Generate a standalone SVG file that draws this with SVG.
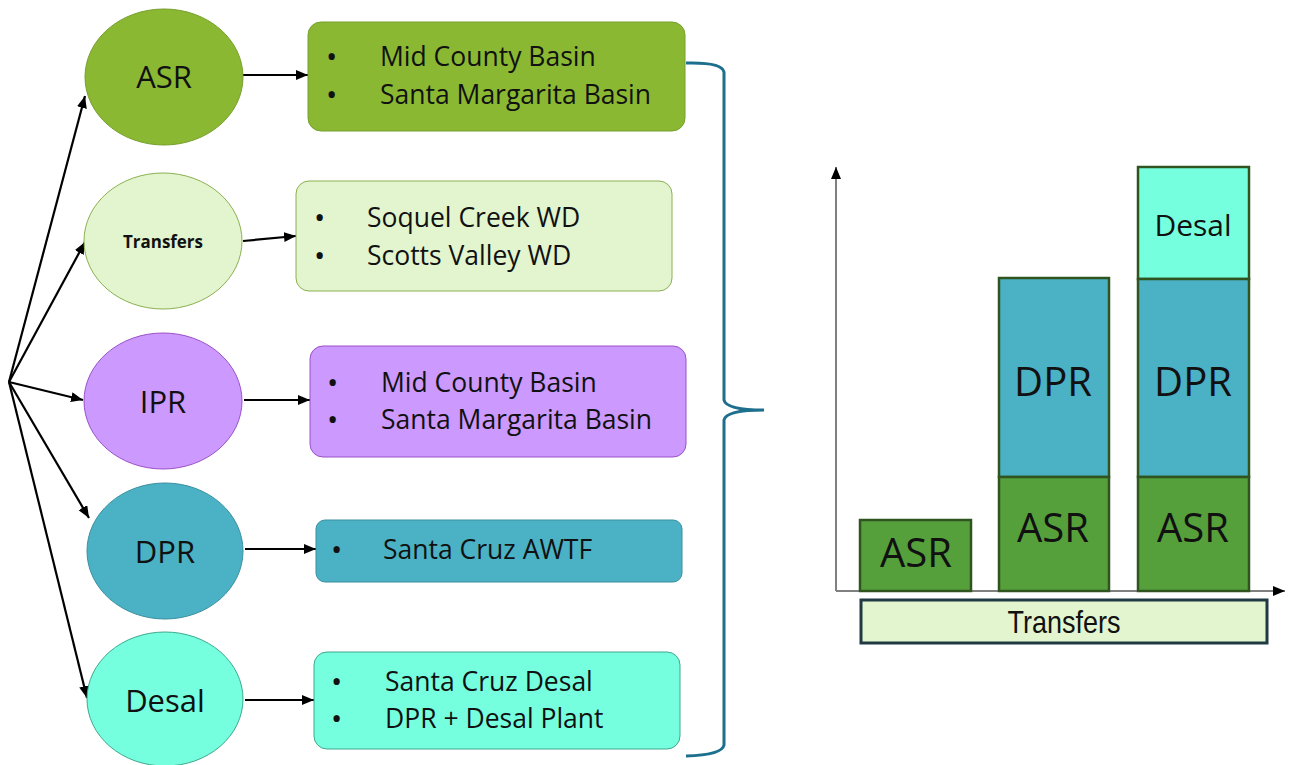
<svg xmlns="http://www.w3.org/2000/svg" width="1291" height="765" viewBox="0 0 1291 765">
<defs>
<marker id="ah" markerUnits="userSpaceOnUse" markerWidth="14" markerHeight="12" refX="12" refY="5" orient="auto">
<path d="M0,0 L12,5 L0,10 Z" fill="#000"/>
</marker>
<style>
.lbl{font-family:"Open Sans","Liberation Sans",sans-serif;fill:#111;}
.el{font-size:31px;text-anchor:middle;}
.it{font-size:26.5px;}
.bul{font-size:30px;}
.conn{stroke:#000;stroke-width:2.2;fill:none;marker-end:url(#ah);}
.axis{stroke:#808080;stroke-width:2;fill:none;marker-end:url(#ah);}
.bar{stroke:#2f5420;stroke-width:2.5;}
.big{font-size:40px;text-anchor:middle;}
</style>
</defs>
<rect width="1291" height="765" fill="#fff"/>

<g id="connectors">
<line class="conn" x1="9" y1="382" x2="85" y2="96"/>
<line class="conn" x1="9" y1="382" x2="85" y2="242"/>
<line class="conn" x1="9" y1="382" x2="83" y2="400"/>
<line class="conn" x1="9" y1="382" x2="89" y2="518"/>
<line class="conn" x1="9" y1="382" x2="87" y2="698"/>
<line class="conn" x1="243" y1="75" x2="308" y2="75"/>
<line class="conn" x1="243" y1="241" x2="296" y2="236"/>
<line class="conn" x1="244" y1="400" x2="310" y2="400"/>
<line class="conn" x1="245" y1="549" x2="316" y2="549"/>
<line class="conn" x1="245" y1="700" x2="314" y2="700"/>
<path d="M686 63 Q722 62 724 72 L724 400 Q726 410 764 410 Q726 410 724 420 L724 745 Q722 755 686 756" fill="none" stroke="#1d6f8e" stroke-width="3"/>
</g>

<g id="node-asr">
<ellipse cx="164" cy="77" rx="79" ry="68" fill="#8ab833" stroke="#76a02c" stroke-width="1"/>
<text class="lbl el" x="164" y="88">ASR</text>
</g>
<g id="node-transfers">
<ellipse cx="163" cy="241" rx="79" ry="68" fill="#e2f5cf" stroke="#8bb050" stroke-width="1"/>
<text class="lbl" x="163" y="248" font-size="17" font-weight="bold" text-anchor="middle" textLength="80" lengthAdjust="spacingAndGlyphs">Transfers</text>
</g>
<g id="node-ipr">
<ellipse cx="163" cy="401" rx="79" ry="68" fill="#cc99ff" stroke="#9b50c8" stroke-width="1"/>
<text class="lbl el" x="163" y="413">IPR</text>
</g>
<g id="node-dpr">
<ellipse cx="165" cy="551" rx="78" ry="68" fill="#4ab2c4" stroke="#3a8f9f" stroke-width="1"/>
<text class="lbl el" x="165" y="563">DPR</text>
</g>
<g id="node-desal">
<ellipse cx="165" cy="699" rx="78" ry="67" fill="#75ffde" stroke="#3fa88e" stroke-width="1"/>
<text class="lbl el" x="165" y="712">Desal</text>
</g>

<g id="box-asr">
<rect x="308" y="22" width="377" height="109" rx="13" fill="#8ab833" stroke="#76a02c" stroke-width="1"/>
<text class="lbl bul" x="326" y="67">•</text><text class="lbl it" x="380" y="66">Mid County Basin</text>
<text class="lbl bul" x="326" y="105">•</text><text class="lbl it" x="380" y="104">Santa Margarita Basin</text>
</g>
<g id="box-transfers">
<rect x="296" y="181" width="376" height="110" rx="13" fill="#e2f5cf" stroke="#8bb050" stroke-width="1"/>
<text class="lbl bul" x="314" y="228">•</text><text class="lbl it" x="367" y="227">Soquel Creek WD</text>
<text class="lbl bul" x="314" y="266">•</text><text class="lbl it" x="367" y="265">Scotts Valley WD</text>
</g>
<g id="box-ipr">
<rect x="310" y="346" width="376" height="111" rx="13" fill="#cc99ff" stroke="#9b50c8" stroke-width="1"/>
<text class="lbl bul" x="327" y="393">•</text><text class="lbl it" x="381" y="392">Mid County Basin</text>
<text class="lbl bul" x="327" y="430">•</text><text class="lbl it" x="381" y="429">Santa Margarita Basin</text>
</g>
<g id="box-dpr">
<rect x="316" y="520" width="366" height="62" rx="9" fill="#4ab2c4" stroke="#3a8f9f" stroke-width="1"/>
<text class="lbl bul" x="331" y="560">•</text><text class="lbl it" x="383" y="559">Santa Cruz AWTF</text>
</g>
<g id="box-desal">
<rect x="314" y="652" width="366" height="97" rx="13" fill="#75ffde" stroke="#3fa88e" stroke-width="1"/>
<text class="lbl bul" x="331" y="692">•</text><text class="lbl it" x="385" y="691">Santa Cruz Desal</text>
<text class="lbl bul" x="331" y="729">•</text><text class="lbl it" x="385" y="728">DPR + Desal Plant</text>
</g>

<g id="chart">
<line class="axis" x1="836" y1="591" x2="836" y2="167"/>
<line class="axis" x1="836" y1="591" x2="1285" y2="591"/>
<g id="bar1">
<rect class="bar" x="860" y="520" width="111" height="71" fill="#56a03c"/>
<text class="lbl big" x="916" y="567">ASR</text>
</g>
<g id="bar2">
<rect class="bar" x="999" y="278" width="110" height="199" fill="#4ab2c4"/>
<rect class="bar" x="999" y="477" width="110" height="114" fill="#56a03c"/>
<text class="lbl big" x="1053" y="396">DPR</text>
<text class="lbl big" x="1053" y="542">ASR</text>
</g>
<g id="bar3">
<rect class="bar" x="1138" y="167" width="111" height="112" fill="#75ffde"/>
<rect class="bar" x="1138" y="279" width="111" height="198" fill="#4ab2c4"/>
<rect class="bar" x="1138" y="477" width="111" height="114" fill="#56a03c"/>
<text class="lbl" x="1193" y="236" font-size="30" text-anchor="middle">Desal</text>
<text class="lbl big" x="1193" y="396">DPR</text>
<text class="lbl big" x="1193" y="542">ASR</text>
</g>
<g id="transfers-bar">
<rect x="861" y="600" width="406" height="43" fill="#e2f5cf" stroke="#203a43" stroke-width="3"/>
<text x="1064" y="633" font-family="'Liberation Sans Narrow','Liberation Sans',Arial,sans-serif" font-size="32" text-anchor="middle" textLength="113" lengthAdjust="spacingAndGlyphs" fill="#111">Transfers</text>
</g>
</g>
</svg>
